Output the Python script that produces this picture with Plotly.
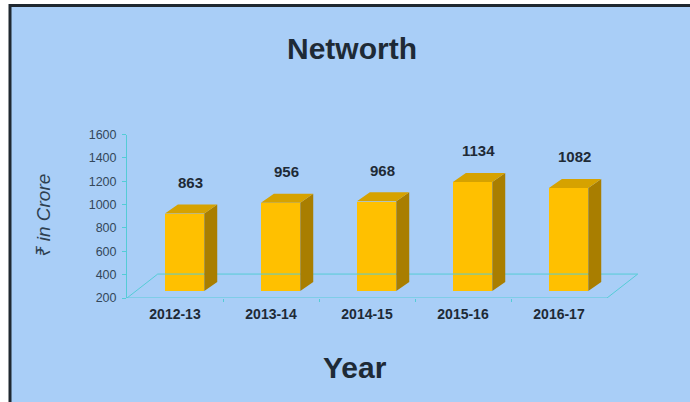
import plotly.graph_objects as go

# ---- data ----
years = ["2012-13", "2013-14", "2014-15", "2015-16", "2016-17"]
networth = [863, 956, 968, 1134, 1082]
y_ticks = [200, 400, 600, 800, 1000, 1200, 1400, 1600]

W, H = 690, 402
BG = "#A9CEF7"
AXIS = "#55CCD6"
FRONT = "#FFC000"
SIDE = "#A97E00"
TOP = "#D6A200"
TXT = "#1E2A36"

# 3D-look parameters (in axis units)
off = 0.10      # front face horizontal offset inside category
bw = 0.41       # front face width
ddx = 0.135     # depth offset x
ddy = 77        # depth offset y (value units)
lift = 60       # front face lifted above floor front edge
base_val = y_ticks[0]
floor_dx, floor_dy = 0.32, 205
PX_PER_CAT = 96

xs = list(range(len(years)))
x_lo, x_hi = -0.5, len(years) - 0.5
x_max = x_hi + floor_dx + 0.02
fig = go.Figure()

# floor: front line, back line and diagonals
fig.add_trace(go.Scatter(
    x=[x_lo, x_hi, x_hi + floor_dx, x_lo + floor_dx, x_lo],
    y=[base_val, base_val, base_val + floor_dy, base_val + floor_dy, base_val],
    mode="lines", line=dict(color=AXIS, width=1), hoverinfo="skip", showlegend=False))

# front faces
fig.add_trace(go.Bar(
    x=[x + off for x in xs], y=[v - base_val for v in networth],
    base=[base_val + lift] * len(xs), width=bw,
    marker=dict(color=FRONT, line=dict(width=0)), hoverinfo="skip", showlegend=False))

# side and top faces
sx, sy, tx, ty = [], [], [], []
for x, v in zip(xs, networth):
    xl = x + off - bw / 2
    xr = x + off + bw / 2
    b = base_val + lift
    t = v + lift
    sx += [xr, xr + ddx, xr + ddx, xr, xr, None]
    sy += [b, b + ddy, t + ddy, t, b, None]
    tx += [xl, xl + ddx, xr + ddx, xr, xl, None]
    ty += [t, t + ddy, t + ddy, t, t, None]
fig.add_trace(go.Scatter(x=sx, y=sy, fill="toself", fillcolor=SIDE, mode="lines",
                         line=dict(width=0, color=SIDE), hoverinfo="skip", showlegend=False))
fig.add_trace(go.Scatter(x=tx, y=ty, fill="toself", fillcolor=TOP, mode="lines",
                         line=dict(width=0, color=TOP), hoverinfo="skip", showlegend=False))

# data labels
for x, v in zip(xs, networth):
    fig.add_annotation(x=x + 0.16, y=v + lift + ddy, text=f"<b>{v}</b>", showarrow=False,
                       yshift=22, xanchor="center", yanchor="middle",
                       font=dict(family="Liberation Sans, Arial", size=15, color=TXT))

# background panel and frame
shapes = [
    dict(type="rect", xref="paper", yref="paper", x0=11 / W, x1=1, y0=0, y1=1 - 6 / H,
         fillcolor=BG, line=dict(width=0), layer="below"),
    dict(type="line", xref="paper", yref="paper", x0=10 / W, x1=10 / W, y0=0, y1=1 - 4 / H,
         line=dict(color="#1F2830", width=3), layer="below"),
    dict(type="line", xref="paper", yref="paper", x0=9 / W, x1=1, y0=1 - 5.5 / H, y1=1 - 5.5 / H,
         line=dict(color="#1F2830", width=3), layer="below"),
]

fig.add_annotation(xref="paper", yref="paper", x=352 / W, y=1 - 48 / H, text="<b>Networth</b>",
                   showarrow=False, xanchor="center", yanchor="middle",
                   font=dict(family="Liberation Sans, Arial", size=30, color=TXT))
fig.add_annotation(xref="paper", yref="paper", x=355 / W, y=1 - 367 / H, text="<b>Year</b>",
                   showarrow=False, xanchor="center", yanchor="middle",
                   font=dict(family="Liberation Sans, Arial", size=30, color=TXT))
fig.add_annotation(xref="paper", yref="paper", x=43 / W, y=1 - 216 / H,
                   text="<i>₹ in Crore</i>", textangle=-90,
                   showarrow=False, xanchor="center", yanchor="middle",
                   font=dict(family="Liberation Sans, Noto Sans, DejaVu Sans", size=19, color="#2E3F50"))

x0_px = 127
x1_px = x0_px + (x_max - x_lo) * PX_PER_CAT

fig.update_layout(
    width=W, height=H, margin=dict(l=0, r=0, t=0, b=0),
    paper_bgcolor="white", plot_bgcolor="rgba(0,0,0,0)",
    shapes=shapes, showlegend=False, bargap=0,
    xaxis=dict(domain=[x0_px / W, x1_px / W], range=[x_lo, x_max], tickmode="array",
               tickvals=xs, ticktext=[f"<b>{y}</b>" for y in years], ticks="",
               showline=False, showgrid=False, zeroline=False,
               ticklabelstandoff=6, automargin=False,
               minor=dict(tickmode="array", tickvals=[x + 0.5 for x in xs[:-1]],
                          ticks="outside", ticklen=3, tickcolor=AXIS),
               tickfont=dict(family="Liberation Sans, Arial", size=14, color=TXT),
               fixedrange=True),
    yaxis=dict(domain=[1 - 298 / H, 1 - 134.5 / H], range=[y_ticks[0], y_ticks[-1]],
               tickmode="array", tickvals=y_ticks, ticks="outside", ticklen=4, tickcolor=AXIS,
               showline=True, linecolor=AXIS, linewidth=1, showgrid=False, zeroline=False,
               ticklabelstandoff=3, automargin=False,
               tickfont=dict(family="Liberation Sans, Arial", size=12.5, color="#34475A"),
               fixedrange=True),
)

fig.write_html("out.html")
